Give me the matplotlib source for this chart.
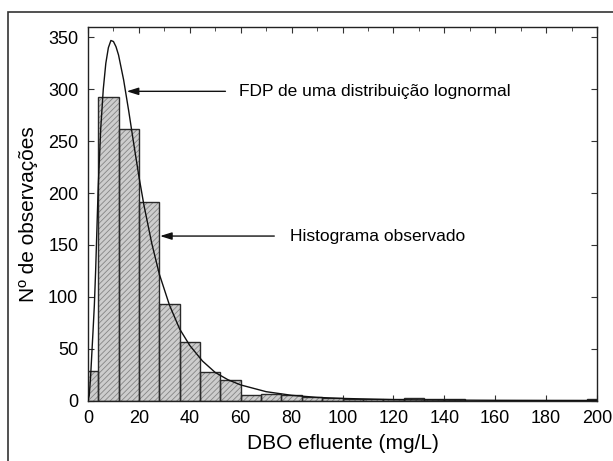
import numpy as np
import matplotlib
matplotlib.use("Agg")
from matplotlib import pyplot as plt
from matplotlib.patches import Rectangle

plt.rcParams['font.family'] = ['Liberation Sans', 'DejaVu Sans']
plt.rcParams['hatch.linewidth'] = 0.6

# histogram: bin centres (width 8) and counts
bin_centres = [0, 8, 16, 24, 32, 40, 48, 56, 64, 72, 80, 88, 96, 104, 112, 120,
               128, 136, 144, 152, 160, 168, 176, 184, 192, 200]
counts = [28, 293, 262, 191, 93, 56, 27, 20, 5, 6, 5, 3, 2, 1, 1, 1,
          2, 1, 1, 0, 0, 0, 0, 0, 0, 1]
bin_width = 8

# fitted lognormal pdf
curve_x = [0, 0.5, 1, 1.5, 2, 2.5, 3, 3.5, 4, 5, 6, 7, 8, 9, 10, 11, 12, 14, 16,
           18, 20, 22, 25, 28, 32, 36, 40, 45, 50, 55, 60, 70, 80, 90, 100,
           120, 140, 160, 180, 200]
curve_y = [0, 5, 22, 45, 68, 92, 125, 165, 205, 262, 300, 325, 340, 347, 346,
           341, 333, 309, 279, 247, 216, 188, 152, 122, 92, 69, 53, 38, 27,
           20, 15, 8.5, 5, 3, 2, 0.8, 0.4, 0.2, 0.1, 0.05]

x_ticks = [0, 20, 40, 60, 80, 100, 120, 140, 160, 180, 200]
y_ticks = [0, 50, 100, 150, 200, 250, 300, 350]

fig = plt.figure(figsize=(6.13, 4.61), dpi=100)
ax = fig.add_axes([88 / 613, 1 - 400.5 / 461, 509 / 613, 373.5 / 461])

# hatched fill, then outlines on top
ax.bar(bin_centres, counts, width=bin_width, color='#cdcdcd', edgecolor='#858585',
       hatch='//////', linewidth=0, zorder=2)
ax.bar(bin_centres, counts, width=bin_width, fill=False, edgecolor='#2a2a2a',
       linewidth=1.0, zorder=3)

ax.plot(curve_x, curve_y, color='#111111', linewidth=1.0, zorder=4)

ax.set_xlim(0, 200)
ax.set_ylim(0, 360)
ax.set_xticks(x_ticks)
ax.set_yticks(y_ticks)
ax.set_xticks(np.arange(0, 201, 10), minor=True)
ax.tick_params(axis='both', which='major', direction='in', length=4,
               labelsize=13, pad=7, top=True, right=True, color='#333333')
ax.tick_params(axis='x', which='minor', direction='in', length=3, top=True,
               bottom=False, color='#333333')
for sp in ax.spines.values():
    sp.set_color('#222222')
    sp.set_linewidth(1.0)

ax.set_xlabel('DBO efluente (mg/L)', fontsize=15, labelpad=5)
ax.set_ylabel('Nº de observações', fontsize=15, labelpad=7)

arrow = dict(arrowstyle='-|>,head_length=0.7,head_width=0.22', color='#111111',
             linewidth=1.0, shrinkA=0, shrinkB=0)
ax.annotate('', xy=(15.2, 298), xytext=(54, 298), arrowprops=arrow, zorder=5)
ax.text(59.5, 298, 'FDP de uma distribuição lognormal', fontsize=12.5,
        va='center', ha='left')
ax.annotate('', xy=(28.3, 158.5), xytext=(73.2, 158.5), arrowprops=arrow, zorder=5)
ax.text(79.2, 158.5, 'Histograma observado', fontsize=12.5, va='center', ha='left')

# outer frame, cropped at right and bottom
frame = Rectangle((8 / 613, -0.2), 2, 1.2 - 12 / 461, transform=fig.transFigure,
                  fill=False, edgecolor='#333333', linewidth=1.2, clip_on=False)
fig.patches.append(frame)

fig.savefig('out.png', dpi=100)
